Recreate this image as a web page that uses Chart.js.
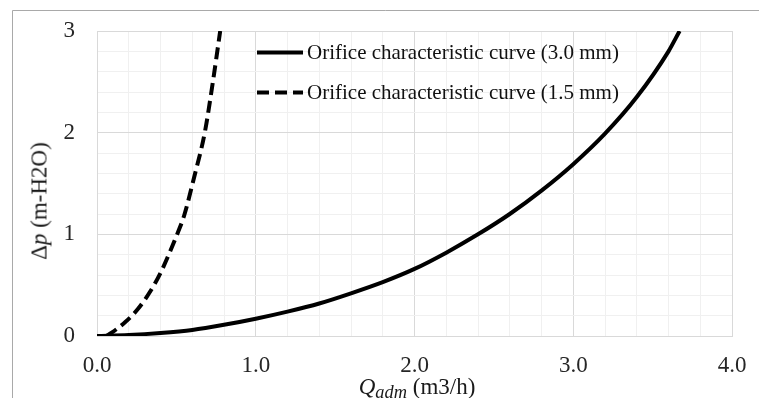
<!DOCTYPE html>
<html>
<head>
<meta charset="utf-8">
<script src="https://cdn.jsdelivr.net/npm/chart.js@4.4.0/dist/chart.umd.min.js"></script>
<style>
  html, body { margin: 0; padding: 0; background: #fff; }
  #wrap { position: relative; width: 759px; height: 398px; overflow: hidden; font-family: "Liberation Serif", "Times New Roman", serif; color: #1a1a1a; }
  #ytitle { position: absolute; left: 39px; top: 201px; transform: translate(-50%, -50%) rotate(-90deg); font-size: 23px; line-height: 1; white-space: nowrap; }
  #xtitle { position: absolute; left: 417px; top: 375px; transform: translateX(-50%); font-size: 23px; line-height: 1; white-space: nowrap; }
  #xtitle .sub { font-size: 0.8em; position: relative; top: 4px; }
</style>
</head>
<body>
<div id="wrap">
  <canvas id="chart" width="759" height="398"></canvas>
  <div id="ytitle">Δ<i>p</i> (m-H2O)</div>
  <div id="xtitle"><i>Q<span class="sub">adm</span></i> (m3/h)</div>
</div>
<script>
// ===== DATA =====
const seriesLabels = ['Orifice characteristic curve (3.0 mm)', 'Orifice characteristic curve (1.5 mm)'];

// 3.0 mm orifice
const flow30 = [0, 0.2, 0.4, 0.6, 0.8, 1.0, 1.2, 1.4, 1.6, 1.8, 2.0, 2.2, 2.4, 2.6, 2.8, 3.0, 3.2, 3.4, 3.6, 3.67];
const dp30   = [0, 0.01, 0.03, 0.06, 0.11, 0.17, 0.24, 0.32, 0.42, 0.53, 0.66, 0.82, 1.00, 1.20, 1.43, 1.69, 1.99, 2.35, 2.80, 3.0];

// 1.5 mm orifice
const flow15 = [0.06, 0.09, 0.18, 0.26, 0.34, 0.40, 0.46, 0.51, 0.55, 0.61, 0.68, 0.73, 0.776];
const dp15   = [0, 0.03, 0.14, 0.27, 0.45, 0.62, 0.83, 1.02, 1.19, 1.55, 2.01, 2.5, 3.0];

const xMin = 0, xMax = 4, yMin = 0, yMax = 3, minorStep = 0.2;

// ===== HELPERS =====
const toPoints = (xs, ys) => xs.map((x, i) => ({ x, y: ys[i] }));
const isMajor = v => Math.abs(v - Math.round(v)) < 1e-6;
const tickFont = { family: 'Liberation Serif', size: 23 };

// fixed axis boxes so the plot area lands where the reference has it
function fixBox(s, size) {
    if (s.isHorizontal()) s.height = size; else s.width = size;
    s.paddingTop = 0; s.paddingBottom = 0; s.paddingLeft = 0; s.paddingRight = 0;
}

// gray outer frame, cut by the picture edge on right and bottom
const frame = {
    id: 'frame',
    beforeDraw(chart) {
        const c = chart.ctx;
        c.save();
        c.fillStyle = '#fff';
        c.fillRect(0, 0, chart.width, chart.height);
        c.strokeStyle = '#a9a9a9';
        c.lineWidth = 1;
        c.beginPath();
        c.moveTo(12.5, chart.height);
        c.lineTo(12.5, 10.5);
        c.lineTo(chart.width, 10.5);
        c.stroke();
        c.restore();
    }
};

// legend drawn inside the plot area
const insideLegend = {
    id: 'insideLegend',
    afterDraw(chart) {
        const c = chart.ctx;
        const x0 = 257, y0 = 52.5, rowGap = 40, sample = 46;
        chart.data.datasets.forEach((ds, i) => {
            const y = y0 + i * rowGap;
            c.save();
            c.strokeStyle = ds.borderColor;
            c.lineWidth = ds.borderWidth;
            c.setLineDash(ds.borderDash || []);
            c.beginPath();
            c.moveTo(x0, y);
            c.lineTo(x0 + sample, y);
            c.stroke();
            c.setLineDash([]);
            c.fillStyle = '#111';
            c.font = '21px "Liberation Serif"';
            c.textBaseline = 'middle';
            c.fillText(ds.label, x0 + sample + 4, y + 1);
            c.restore();
        });
    }
};

const gridColor = ctx => (ctx.tick && isMajor(ctx.tick.value)) ? '#d9d9d9' : '#f0f0f0';

new Chart(document.getElementById('chart'), {
    type: 'line',
    data: {
        datasets: [{
            label: seriesLabels[0],
            data: toPoints(flow30, dp30),
            borderColor: '#000',
            borderWidth: 4,
            pointRadius: 0,
            cubicInterpolationMode: 'monotone',
        }, {
            label: seriesLabels[1],
            data: toPoints(flow15, dp15),
            borderColor: '#000',
            borderWidth: 4,
            borderDash: [12, 6],
            pointRadius: 0,
            cubicInterpolationMode: 'monotone',
        }]
    },
    options: {
        responsive: false,
        animation: false,
        devicePixelRatio: 1,
        layout: { padding: { left: 0, top: 31, right: 27, bottom: 0 } },
        plugins: { legend: { display: false }, tooltip: { enabled: false } },
        scales: {
            x: {
                type: 'linear',
                min: xMin, max: xMax,
                afterFit: s => fixBox(s, 62),
                ticks: {
                    stepSize: minorStep,
                    autoSkip: false,
                    maxRotation: 0,
                    padding: 16,
                    color: '#262626',
                    font: tickFont,
                    callback: v => isMajor(v) ? Math.round(v).toFixed(1) : ''
                },
                grid: { color: gridColor, drawTicks: false },
                border: { color: '#d9d9d9' }
            },
            y: {
                type: 'linear',
                min: yMin, max: yMax,
                afterFit: s => fixBox(s, 97),
                ticks: {
                    stepSize: minorStep,
                    autoSkip: false,
                    padding: 22,
                    color: '#262626',
                    font: tickFont,
                    callback: v => isMajor(v) ? String(Math.round(v)) : ''
                },
                grid: { color: gridColor, drawTicks: false },
                border: { color: '#d9d9d9' }
            }
        }
    },
    plugins: [frame, insideLegend]
});
</script>
</body>
</html>
